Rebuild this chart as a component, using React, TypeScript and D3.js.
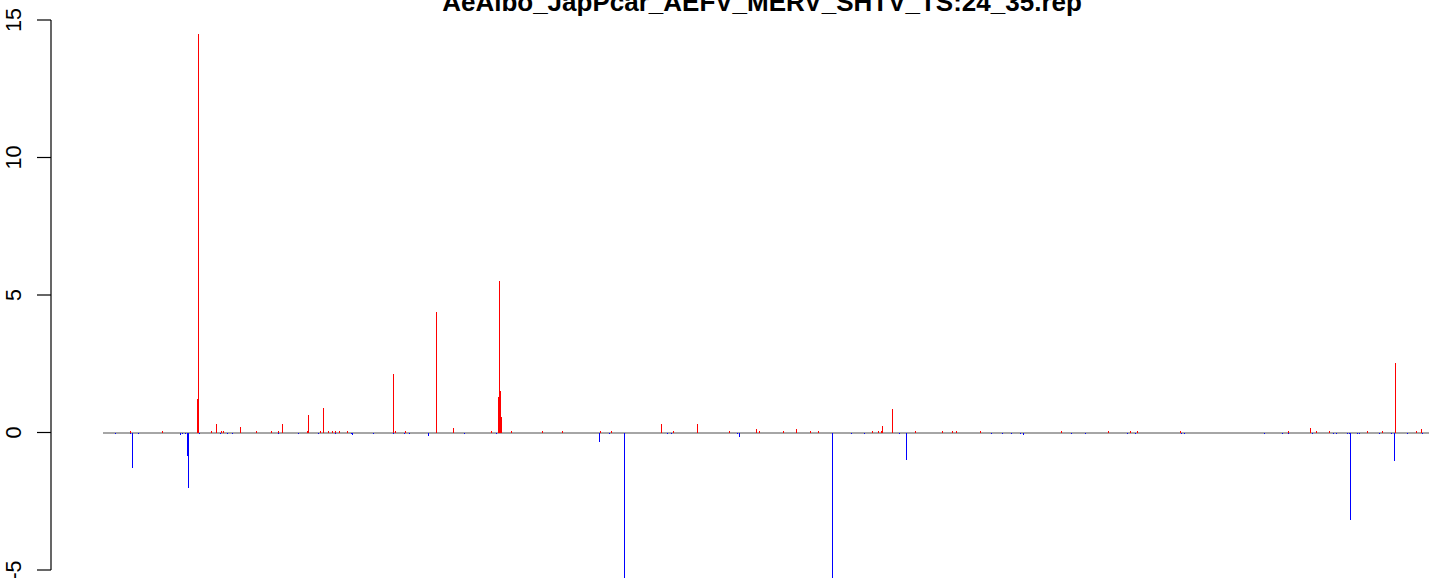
import React from "react";
import * as d3 from "d3";

const title = "AeAlbo_JapPcar_AEFV_MERV_SHTV_TS:24_35.rep";

// positions along the sequence (index units) and scores
const redPos = [27, 59, 94, 95, 108, 113, 118, 120, 137, 153, 168, 175, 179, 204, 205, 217, 220, 225, 229, 232, 236, 244, 290, 292, 302, 333, 350, 388, 395, 396, 397, 398, 408, 439, 459, 497, 508, 558, 570, 594, 626, 653, 656, 680, 693, 707, 715, 769, 775, 778, 779, 789, 812, 839, 849, 853, 877, 958, 1005, 1027, 1034, 1077, 1185, 1207, 1213, 1226, 1264, 1279, 1292, 1313, 1318];
const redVal = [0.04, 0.04, 1.22, 14.5, 0.04, 0.31, 0.04, 0.04, 0.2, 0.04, 0.04, 0.04, 0.31, 0.04, 0.64, 0.04, 0.89, 0.04, 0.04, 0.04, 0.04, 0.04, 2.13, 0.04, 0.04, 4.38, 0.16, 0.04, 1.3, 5.5, 1.5, 0.56, 0.04, 0.04, 0.04, 0.04, 0.04, 0.31, 0.04, 0.31, 0.04, 0.12, 0.04, 0.07, 0.13, 0.04, 0.04, 0.04, 0.04, 0.04, 0.24, 0.85, 0.04, 0.04, 0.04, 0.04, 0.04, 0.04, 0.05, 0.05, 0.05, 0.04, 0.04, 0.16, 0.04, 0.04, 0.04, 0.04, 2.53, 0.04, 0.14];

const bluePos = [12, 27, 29, 35, 77, 79, 82, 84, 85, 96, 117, 124, 129, 175, 195, 215, 232, 248, 249, 270, 290, 301, 306, 325, 361, 393, 496, 506, 521, 564, 568, 634, 636, 729, 748, 761, 796, 803, 888, 899, 908, 917, 920, 968, 982, 1024, 1032, 1078, 1081, 1161, 1179, 1185, 1209, 1230, 1233, 1244, 1246, 1247, 1254, 1256, 1276, 1288, 1291, 1304, 1319];
const blueVal = [-0.05, -0.05, -1.28, -0.05, -0.08, -0.05, -0.03, -0.85, -2.0, -0.05, -0.05, -0.05, -0.05, -0.05, -0.05, -0.05, -0.05, -0.05, -0.08, -0.05, -0.05, -0.05, -0.05, -0.13, -0.05, -0.05, -0.34, -0.05, -5.8, -0.05, -0.05, -0.05, -0.17, -5.8, -0.05, -0.05, -0.05, -1.0, -0.05, -0.05, -0.05, -0.05, -0.08, -0.05, -0.05, -0.05, -0.05, -0.05, -0.05, -0.05, -0.05, -0.05, -0.05, -0.05, -0.05, -0.05, -0.05, -3.17, -0.05, -0.05, -0.05, -0.05, -1.03, -0.05, -0.05];

const yTicks = [-5, 0, 5, 10, 15];
const xDomain = [0, 1326];

export default function App() {
  const W = 1429, H = 578;
  const x = d3.scaleLinear().domain(xDomain).range([103, 1429]);
  const y = d3.scaleLinear().domain([-5, 15]).range([570, 20]);
  const bar = (p: number, v: number, color: string, k: string) => {
    const y0 = Math.round(y(0)), y1 = Math.round(y(v));
    return (
      <rect key={k} x={Math.round(x(p))} y={Math.min(y0, y1)} width={1}
        height={Math.max(1, Math.abs(y1 - y0))} fill={color} shapeRendering="crispEdges" />
    );
  };
  return (
    <svg width={W} height={H} style={{ position: "absolute", left: 0, top: 0, background: "#fff" }}
      fontFamily="'Liberation Sans', Arial, Helvetica, sans-serif">
      <text x={762} y={10.5} textAnchor="middle" fontWeight="bold" fontSize={26}>{title}</text>
      <rect x={x(xDomain[0])} width={x(xDomain[1]) - x(xDomain[0])} y={Math.round(y(0)) - 1} height={2}
        fill="#a6a6a6" shapeRendering="crispEdges" />
      {redPos.map((p, i) => bar(p, redVal[i], "#ff0000", "r" + i))}
      {bluePos.map((p, i) => bar(p, blueVal[i], "#0000ff", "b" + i))}
      <line x1={51} x2={51} y1={y(-5)} y2={y(15)} stroke="#000" strokeWidth={1.2} />
      {yTicks.map((t) => (
        <g key={t}>
          <line x1={37} x2={51} y1={y(t)} y2={y(t)} stroke="#000" strokeWidth={1.2} />
          <text transform={`translate(21,${y(t)}) rotate(-90)`} textAnchor="middle" fontSize={21.6}>{t === -5 ? "-5" : String(t)}</text>
        </g>
      ))}
    </svg>
  );
}
